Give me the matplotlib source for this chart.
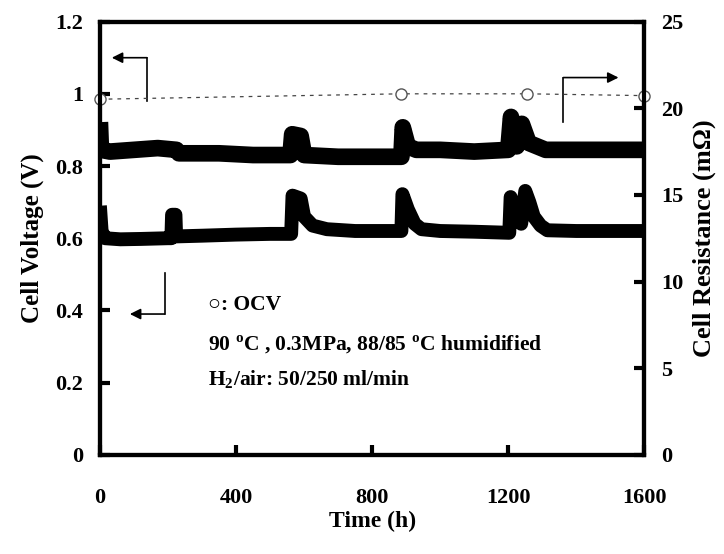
import numpy as np
import matplotlib
matplotlib.use("Agg")
from matplotlib import pyplot as plt

# cell voltage (V) vs time (h)
volt_t = [0, 5, 15, 60, 120, 200, 210, 212, 222, 224, 300, 400, 500, 562, 566, 590, 600, 625, 667,
          750, 850, 886, 889, 905, 925, 945, 1000, 1100, 1203,
          1207, 1222, 1238, 1250, 1262, 1275, 1295, 1315, 1400, 1500, 1600]
volt_v = [0.69, 0.62, 0.60, 0.597, 0.598, 0.60, 0.60, 0.665, 0.665, 0.605, 0.607, 0.61, 0.612, 0.612, 0.718, 0.71, 0.66, 0.635, 0.625,
          0.62, 0.62, 0.62, 0.722, 0.68, 0.64, 0.625, 0.62, 0.618, 0.615,
          0.714, 0.672, 0.64, 0.731, 0.70, 0.66, 0.635, 0.622, 0.62, 0.62, 0.62]

# cell resistance (mOhm) vs time (h)
res_t = [0, 3, 30, 100, 170, 225, 232, 350, 450, 560, 565, 590, 600, 700, 800, 886, 890, 905, 930,
         1000, 1100, 1200, 1208, 1225, 1240, 1260, 1310, 1400, 1500, 1600]
res_r = [19.2, 17.6, 17.5, 17.6, 17.7, 17.6, 17.4, 17.4, 17.3, 17.3, 18.5, 18.4, 17.3, 17.2, 17.2, 17.2, 18.9, 17.8, 17.6,
         17.6, 17.5, 17.6, 19.5, 17.8, 19.1, 18.0, 17.6, 17.6, 17.6, 17.6]

# open circuit voltage points
ocv_t = [0, 886, 1255, 1600]
ocv_v = [0.985, 1.0, 1.0, 0.995]

serif = ['Liberation Serif', 'DejaVu Serif']
plt.rcParams['font.family'] = serif
plt.rcParams['font.weight'] = 'bold'
plt.rcParams['mathtext.fontset'] = 'custom'
plt.rcParams['mathtext.rm'] = 'Liberation Serif:bold'
plt.rcParams['mathtext.bf'] = 'Liberation Serif:bold'

fig = plt.figure(figsize=(7.24, 5.54), dpi=100)
ax = fig.add_axes([0.138, 0.179, 0.752, 0.782])
ax2 = ax.twinx()

ax.plot(volt_t, volt_v, color='black', lw=10, solid_capstyle='butt', solid_joinstyle='round')
ax2.plot(res_t, res_r, color='black', lw=12, solid_capstyle='butt', solid_joinstyle='round')
ax.plot(ocv_t, ocv_v, color='#444444', lw=0.9, ls=(0, (3, 4)),
        marker='o', ms=8, mfc='white', mec='#555555', mew=1, clip_on=False, zorder=5)

ax.set_xlim(0, 1600)
ax.set_ylim(0, 1.2)
ax2.set_ylim(0, 25)
ax.set_xticks([0, 400, 800, 1200, 1600])
ax.set_yticks([0, 0.2, 0.4, 0.6, 0.8, 1.0, 1.2])
ax.set_yticklabels(['0', '0.2', '0.4', '0.6', '0.8', '1', '1.2'])
ax2.set_yticks([0, 5, 10, 15, 20, 25])

for a in (ax, ax2):
    for s in a.spines.values():
        s.set_linewidth(3)
ax.tick_params(axis='x', direction='in', length=7, width=3, pad=24, labelsize=16)
ax.tick_params(axis='y', direction='in', length=7, width=3, pad=12, labelsize=16)
ax2.tick_params(axis='y', direction='in', length=7, width=3, pad=12, labelsize=16)

ax.set_xlabel('Time (h)', fontsize=17, fontweight='bold', labelpad=2)
ax.set_ylabel('Cell Voltage (V)', fontsize=18, fontweight='bold', labelpad=8)
ax2.set_ylabel('Cell Resistance (m\u03a9)', fontsize=19, fontweight='bold', labelpad=7)

# arrows pointing to the axes
arr = dict(arrowstyle='-|>', color='black', lw=1.2, mutation_scale=16,
           shrinkA=0, shrinkB=0)
ax.plot([138, 138], [0.979, 1.10], color='black', lw=1.2)
ax.annotate('', xy=(35, 1.10), xytext=(138, 1.10), arrowprops=arr)
ax.plot([1362, 1362], [0.921, 1.045], color='black', lw=1.2)
ax.annotate('', xy=(1524, 1.045), xytext=(1362, 1.045), arrowprops=arr)
ax.plot([190, 190], [0.39, 0.505], color='black', lw=1.2)
ax.annotate('', xy=(88, 0.39), xytext=(190, 0.39), arrowprops=arr)

txt = dict(fontsize=15.5, fontweight='bold', family=['Liberation Serif', 'DejaVu Sans'],
           va='center', ha='left')
ax.text(318, 0.415, '\u25cb: OCV', **txt)
ax.text(318, 0.304, '90 $^\\mathregular{o}$C , 0.3MPa, 88/85 $^\\mathregular{o}$C humidified', **txt)
ax.text(318, 0.207, 'H$_\\mathregular{2}$/air: 50/250 ml/min', **txt)

fig.savefig('out.png', dpi=100)
